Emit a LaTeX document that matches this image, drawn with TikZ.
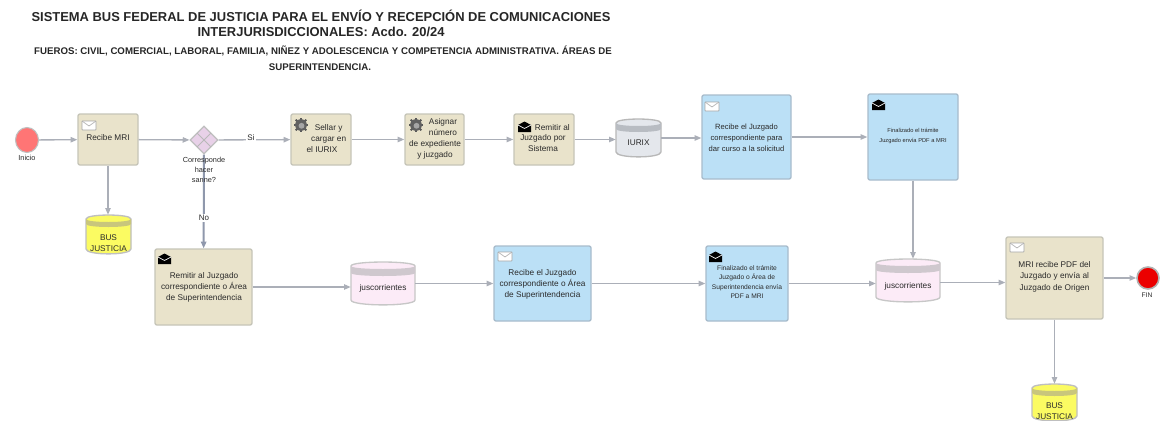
\documentclass[tikz,border=0pt]{standalone}
\usepackage{fontspec}
\setmainfont{Liberation Sans}
\usetikzlibrary{arrows.meta,shapes.geometric}
\definecolor{tan}{HTML}{E9E3CB}
\definecolor{tanb}{HTML}{C6C5B8}
\definecolor{blu}{HTML}{BBE0F6}
\definecolor{blub}{HTML}{A8BCCC}
\definecolor{wire}{HTML}{ABAFB8}
\definecolor{wired}{HTML}{8F98AC}
\definecolor{txt}{HTML}{2A2A2A}
\definecolor{ybody}{HTML}{FBFB62}
\definecolor{yband}{HTML}{C9C67C}
\definecolor{pbody}{HTML}{FCEBF7}
\definecolor{pband}{HTML}{CFC8CE}
\definecolor{gbody}{HTML}{E4E7EC}
\definecolor{gband}{HTML}{B8BCC2}
\tikzset{
  bx/.style={draw=tanb,line width=1pt,rounded corners=1.5pt,inner sep=0pt},
  tk/.style={bx,fill=tan},
  bl/.style={bx,fill=blu,draw=blub},
  lbl/.style={text=txt,font=\fontsize{6.2pt}{8.2pt}\selectfont,align=center,inner sep=0pt},
  lbln/.style={lbl,font=\fontsize{5.7pt}{8.4pt}\selectfont},
  sm/.style={text=txt,font=\fontsize{5pt}{7pt}\selectfont,align=center,inner sep=0pt},
  smn/.style={sm,font=\fontsize{4.3pt}{7pt}\selectfont},
  small/.style={text=txt,font=\fontsize{5.5pt}{7.7pt}\selectfont,align=center,inner sep=0pt},
  ttl/.style={font=\bfseries\fontsize{9.7pt}{11pt}\selectfont,inner sep=0pt,text=black!85},
  sub/.style={font=\bfseries\fontsize{7.25pt}{9pt}\selectfont,inner sep=0pt,text=black!85},
  link/.style={draw=wire,line width=1pt,-{Triangle[length=5pt,width=4pt]}},
}
% box: name, cx, cy, w, h, style
\newcommand{\bxn}[6]{\node[#6,minimum width=#4*0.75pt,minimum height=#5*0.75pt] (#1) at (#2,#3) {};}
% white envelope
\newcommand{\envw}[2]{\draw[fill=white,draw=black!35,line width=.5pt,rounded corners=.5pt] (#1,#2) rectangle ++(14,9);
  \draw[draw=black!30,line width=.5pt] (#1,#2) -- ++(7,5) -- ++(7,-5);}
% black envelope
\newcommand{\envb}[2]{\fill[black] (#1,#2+3) -- ++(6.5,-3.5) -- ++(6.5,3.5) -- ++(0,7) -- ++(-13,0) -- cycle;
  \draw[white,line width=.5pt] (#1,#2+3) -- ++(6.5,3.5) -- ++(6.5,-3.5);}
% gear
\newcommand{\gearic}[2]{\begin{scope}[shift={(#1,#2)}]
  \foreach \a in {0,45,...,315}{\draw[line width=1.5pt,black!65] (\a:3.5pt) -- (\a:5.6pt);}
  \fill[black!62] (0,0) circle[radius=4.4pt];
  \fill[black!35] (0.4pt,-0.6pt) circle[radius=2.2pt];
\end{scope}}
% cylinder: name,x1,y1,x2,y2,body,band,edge,band thickness
\newcommand{\cyl}[9]{%
  \pgfmathsetmacro{\ccx}{(#2+#4)/2}\pgfmathsetmacro{\ccy}{(#3+#5)/2}
  \pgfmathsetmacro{\cwd}{#4-#2}\pgfmathsetmacro{\cht}{#5-#3}
  \pgfmathsetmacro{\yt}{#3+4}\pgfmathsetmacro{\ytt}{#3-1.3}\pgfmathsetmacro{\ytb}{#3+8}
  \pgfmathsetmacro{\yb}{#5-5}\pgfmathsetmacro{\ybb}{#5+1.5}\pgfmathsetmacro{\ym}{#3+4+#9}\pgfmathsetmacro{\ymb}{#3+8+#9}
  \draw[draw=#8,line width=1pt,fill=#6] (#2,\yt) .. controls (#2,\ytt) and (#4,\ytt) .. (#4,\yt) -- (#4,\yb)
     .. controls (#4,\ybb) and (#2,\ybb) .. (#2,\yb) -- cycle;
  \fill[#7] (#2,\yt) .. controls (#2,\ytb) and (#4,\ytb) .. (#4,\yt) -- (#4,\ym)
     .. controls (#4,\ymb) and (#2,\ymb) .. (#2,\ym) -- cycle;
  \node[minimum width=\cwd*0.75pt,minimum height=\cht*0.75pt,inner sep=0pt] (#1) at (\ccx,\ccy) {};
}
\begin{document}
\begin{tikzpicture}[x=0.75pt,y=-0.75pt]
\useasboundingbox[fill=white] (0,0) rectangle (1167,421);
% titles
\node[ttl] (t1) at (321,16) {SISTEMA BUS FEDERAL DE JUSTICIA PARA EL ENVÍO Y RECEPCIÓN DE COMUNICACIONES};
\node[ttl] (t2) at (321,32) {INTERJURISDICCIONALES: Acdo. 20/24};
\node[sub] (t3) at (323,51) {FUEROS: CIVIL, COMERCIAL, LABORAL, FAMILIA, NIÑEZ Y ADOLESCENCIA Y COMPETENCIA ADMINISTRATIVA. ÁREAS DE};
\node[sub] (t4) at (320,67) {SUPERINTENDENCIA.};
% events
\node[ellipse,draw=black!25,line width=.8pt,fill=red!60!white!90,minimum width=23*0.75pt,minimum height=25*0.75pt,inner sep=0pt] (start) at (27,140) {};
\node[small] (startl) at (27,158) {Inicio};
\node[circle,draw=black!30,line width=1.2pt,fill=red!92!black,minimum size=22*0.75pt,inner sep=0pt] (fin) at (1148,278) {};
\node[small,font=\fontsize{5pt}{7pt}\selectfont] (finl) at (1147,295) {FIN};
% tasks
\bxn{recibe}{108}{139.5}{60}{51}{tk}
\bxn{sellar}{321}{139.5}{60}{51}{tk}
\bxn{asignar}{434.5}{139.5}{59}{51}{tk}
\bxn{remitir}{544}{139.5}{60}{51}{tk}
\bxn{juz1}{746.5}{137}{89}{84}{bl}
\bxn{fin1}{913}{137}{90}{86}{bl}
\bxn{remgr}{203.5}{287}{97}{76}{tk}
\bxn{juz2}{542.5}{283.5}{97}{75}{bl}
\bxn{fin2}{747}{283.5}{82}{75}{bl}
\bxn{mri}{1054.5}{278}{97}{82}{tk}
% gateway
\node[diamond,draw=black!25,line width=1pt,fill=violet!18,minimum width=28*0.75pt,minimum height=28*0.75pt,inner sep=0pt] (gw) at (204,140) {};
\draw[black!28,line width=.7pt] (197,133) -- (211,147) (197,147) -- (211,133);
% stores
\cyl{bus1}{86}{215}{131}{254}{ybody}{yband}{black!25}{5}
\cyl{bus2}{1032}{384}{1077}{421}{ybody}{yband}{black!25}{5}
\cyl{iurix}{616}{119}{661}{157}{gbody}{gband}{black!28}{6}
\cyl{jus1}{351}{262}{415}{305}{pbody}{pband}{black!22}{7}
\cyl{jus2}{876}{259}{940}{302}{pbody}{pband}{black!22}{7}
% connectors
\draw[link] (start) -- (recibe);
\draw[link] (recibe) -- (gw);
\draw[link] (gw) -- (sellar);
\draw[link] (sellar) -- (asignar);
\draw[link] (asignar) -- (remitir);
\draw[link] (remitir) -- (remitir.east -| iurix.west);
\draw[link] (iurix.east) -- (iurix.east -| juz1.west);
\draw[link] (juz1.east) -- (juz1.east -| fin1.west);
\draw[link] (fin1.south) -- (fin1.south |- jus2.north);
\draw[link] (recibe) -- (recibe |- bus1.north);
\draw[link,draw=wired,line width=1.5pt] (gw) -- (remgr);
\draw[link] (remgr.east) -- (remgr.east -| jus1.west);
\draw[link] (jus1.east) -- (jus1.east -| juz2.west);
\draw[link] (juz2.east) -- (juz2.east -| fin2.west);
\draw[link] (fin2.east) -- (fin2.east -| jus2.west);
\draw[link] ([yshift=-1.5pt]jus2.east) -- ([yshift=-1.5pt]jus2.east -| mri.west);
\draw[link] (mri.east) -- (fin);
\draw[link] (mri.south) -- (mri.south |- bus2.north);
% connector labels
\node[small,fill=white,inner sep=1pt,font=\fontsize{6pt}{7pt}\selectfont] (si) at (251,138) {Si};
\node[small,fill=white,inner sep=1pt,font=\fontsize{6pt}{7pt}\selectfont] (no) at (204,218) {No};
\node[small] (gwl) at (204,170) {Corresponde\\hacer\\sanne?};
% icons
\envw{82}{121}
\gearic{301}{125}
\gearic{416}{125}
\envb{518}{122}
\envw{705}{102}
\envb{872}{100}
\envb{158}{254}
\envw{498}{252}
\envb{709}{252}
\envw{1010}{243}
% texts
\node[lbl] (a1) at (108,138) {Recibe MRI};
\node[lbl] (a2) at (322,138.5) {\hspace*{10pt}Sellar y\\\hspace*{10pt}cargar en\\el IURIX};
\node[lbl] (a3) at (435,139) {\hspace*{12pt}Asignar\\\hspace*{12pt}número\\de expediente\\y juzgado};
\node[lbl] (a4) at (543,138) {\hspace*{14pt}Remitir al\\Juzgado por\\Sistema};
\node[lbl] (a5) at (638.5,143) {IURIX};
\node[lbln] (a6) at (746.5,137.5) {Recibe el Juzgado\\correspondiente para\\dar curso a la solicitud};
\node[smn] (a7) at (913,136) {Finalizado el trámite\\Juzgado envía PDF a MRI};
\node[lbl] (a8) at (108.5,243.5) {BUS\\JUSTICIA};
\node[lbl] (a9) at (204,287) {Remitir al Juzgado\\correspondiente o Área\\de Superintendencia};
\node[lbl] (a10) at (383,288) {juscorrientes};
\node[lbl] (a11) at (542.5,284.5) {Recibe el Juzgado\\correspondiente o Área\\de Superintendencia};
\node[sm] (a12) at (747,282) {Finalizado el trámite\\Juzgado o Área de\\Superintendencia envía\\PDF a MRI};
\node[lbl] (a13) at (908,286) {juscorrientes};
\node[lbl,font=\fontsize{6.2pt}{8.6pt}\selectfont] (a14) at (1054.5,276.5) {MRI recibe PDF del\\Juzgado y envía al\\Juzgado de Origen};
\node[lbl] (a15) at (1054.5,411.5) {BUS\\JUSTICIA};
\end{tikzpicture}
\end{document}
